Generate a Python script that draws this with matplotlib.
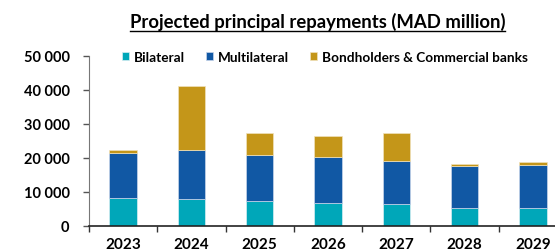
import matplotlib
matplotlib.use("Agg")
import matplotlib.pyplot as plt
import numpy as np

years = ["2023", "2024", "2025", "2026", "2027", "2028", "2029"]
bilateral = [8150, 7850, 7200, 6800, 6300, 5200, 5200]
multilateral = [13350, 14450, 13700, 13500, 12800, 12400, 12750]
bondholders = [700, 18800, 6400, 6100, 8200, 500, 700]
yticks = [0, 10000, 20000, 30000, 40000, 50000]
ytick_labels = ["0", "10 000", "20 000", "30 000", "40 000", "50 000"]
series_names = ["Bilateral", "Multilateral", "Bondholders & Commercial banks"]
colors = ["#00A7B9", "#1158A4", "#C49619"]

plt.rcParams['font.family'] = ['Lato', 'DejaVu Sans']

W, H = 555, 253
fig = plt.figure(figsize=(W / 100, H / 100), dpi=100)
left, right = 89, 567
bottom_px, top_px = 226.7, 56.7
ax = fig.add_axes([left / W, (H - bottom_px) / H, (right - left) / W, (bottom_px - top_px) / H])

x = np.arange(len(years))
bw = 0.4
b1 = np.array(bilateral)
b2 = np.array(multilateral)
b3 = np.array(bondholders)
ax.bar(x, b1, bw, color=colors[0], edgecolor="#d8eef2", linewidth=0.5, label=series_names[0])
ax.bar(x, b2, bw, bottom=b1, color=colors[1], edgecolor="#c9d6ea", linewidth=0.5, label=series_names[1])
ax.bar(x, b3, bw, bottom=b1 + b2, color=colors[2], edgecolor="#f0e2bc", linewidth=0.5, label=series_names[2])

ax.set_xlim(-0.5, len(years) - 0.5)
ax.set_ylim(0, 50000)
ax.set_yticks(yticks)
ax.set_yticklabels(ytick_labels, fontsize=10.5, fontweight="bold")
ax.set_xticks(x)
ax.set_xticklabels(years, fontsize=11, fontweight="bold")
ax.tick_params(axis="x", length=0, pad=8)
ax.set_xticks(np.arange(len(years) + 1) - 0.5, minor=True)
ax.tick_params(axis="x", which="minor", length=4, direction="out", width=1, color="#333333")
ax.tick_params(axis="y", length=4, direction="out", width=1, color="#555555", pad=10)
for s in ["top", "right"]:
    ax.spines[s].set_visible(False)
ax.spines["left"].set_color("#777777")
ax.spines["bottom"].set_color("#222222")
ax.spines["bottom"].set_linewidth(1.2)

leg = ax.legend(loc="center left", ncol=3, frameon=False,
                prop={"weight": "bold", "size": 9.8}, handlelength=0.55, handleheight=0.55,
                handletextpad=0.35, columnspacing=1.5, borderpad=0, borderaxespad=0)
leg.set_bbox_to_anchor((122 / W, (H - 57.7) / H), transform=fig.transFigure)

t = fig.text(317.5 / W, (H - 22) / H, "Projected principal repayments (MAD million)",
             ha="center", va="center", fontsize=13.3, fontweight="bold")
fig.canvas.draw()
bb = t.get_window_extent()
fig.add_artist(plt.Line2D([bb.x0 / W, bb.x1 / W], [(bb.y0 - 1) / H, (bb.y0 - 1) / H],
                          transform=fig.transFigure, color="black", linewidth=1.0))

fig.savefig("out.png", dpi=100)
